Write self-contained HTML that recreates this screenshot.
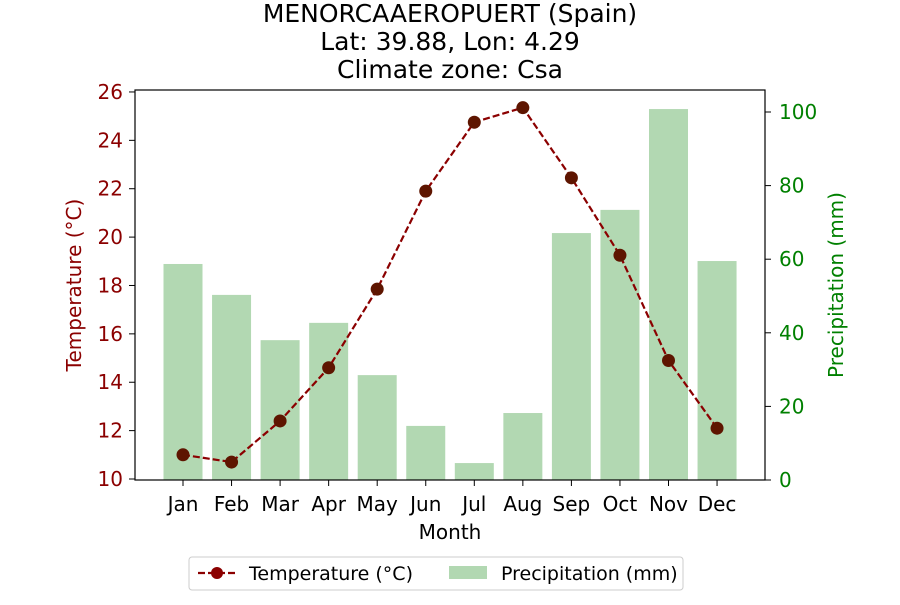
<!DOCTYPE html>
<html><head><meta charset="utf-8"><style>
body{margin:0;background:#fff}
svg{font-family:"DejaVu Sans","Liberation Sans",sans-serif}
</style></head><body>
<svg id="chart" width="900" height="600">
<g id="bars"></g>
<g id="line"></g>
<rect x="135" y="90" width="630" height="390" fill="none" stroke="#000" stroke-width="1.2"/>
<g id="axes"></g>
<g font-size="25" text-anchor="middle">
<text x="450" y="22">MENORCAAEROPUERT (Spain)</text>
<text x="450" y="50">Lat: 39.88, Lon: 4.29</text>
<text x="450" y="78">Climate zone: Csa</text>
</g>
<text x="450" y="539" font-size="20" text-anchor="middle">Month</text>
<text transform="translate(81,285) rotate(-90)" font-size="20" fill="#8b0000" text-anchor="middle">Temperature (°C)</text>
<text transform="translate(843,285) rotate(-90)" font-size="20" fill="#008000" text-anchor="middle">Precipitation (mm)</text>
<g>
<rect x="189" y="557" width="494" height="33" rx="3" fill="#fff" stroke="#ccc"/>
<g>
<line x1="198" y1="573" x2="236" y2="573" stroke="#8b0000" stroke-width="2.2" stroke-dasharray="7,3"/>
<circle cx="217" cy="573" r="6" fill="#8b0000"/>
<text x="249" y="580" font-size="19">Temperature (°C)</text></g>
<g>
<rect x="449" y="566" width="38" height="13" fill="#b2d8b2"/>
<text x="501" y="580" font-size="19">Precipitation (mm)</text></g>
</g>
</svg>
<script>
const months=["Jan","Feb","Mar","Apr","May","Jun","Jul","Aug","Sep","Oct","Nov","Dec"];
const temps=[11.0,10.7,12.4,14.6,17.85,21.9,24.75,25.35,22.45,19.25,14.9,12.1];
const precip=[58.7,50.3,38,42.7,28.5,14.7,4.6,18.2,67.1,73.4,100.8,59.5];
const tTicks=[10,12,14,16,18,20,22,24,26];
const pTicks=[0,20,40,60,80,100];
const NS="http://www.w3.org/2000/svg";
const xS=i=>183+i*48.55;
const yT=v=>479-(v-10)*24.19;
const yP=v=>480-v*3.68;
function mk(tag,attrs,parent){const e=document.createElementNS(NS,tag);for(const k in attrs)e.setAttribute(k,attrs[k]);parent.appendChild(e);return e;}
const bars=document.getElementById('bars'),line=document.getElementById('line'),axes=document.getElementById('axes');
precip.forEach((v,i)=>{const r=mk('rect',{x:xS(i)-19.5,y:yP(v),width:39,height:480-yP(v),fill:'#b2d8b2'},bars);

});
const pl=mk('polyline',{points:temps.map((v,i)=>xS(i)+','+yT(v)).join(' '),fill:'none',stroke:'#8b0000','stroke-width':2.2,'stroke-dasharray':'7,3'},line);


temps.forEach((v,i)=>{const c=mk('circle',{cx:xS(i),cy:yT(v),r:6.5,fill:'#5e1500'},line);

});
months.forEach((m,i)=>{mk('line',{x1:xS(i),x2:xS(i),y1:480,y2:486,stroke:'#000'},axes);
const t=mk('text',{x:xS(i),y:511,'font-size':20,'text-anchor':'middle'},axes);t.textContent=m;

});
tTicks.forEach(v=>{mk('line',{x1:129,x2:135,y1:yT(v),y2:yT(v),stroke:'#000'},axes);
const t=mk('text',{x:123,y:yT(v)+7,'font-size':20,'text-anchor':'end',fill:'#8b0000'},axes);t.textContent=v;

});
pTicks.forEach(v=>{mk('line',{x1:765,x2:771,y1:yP(v),y2:yP(v),stroke:'#000'},axes);
const t=mk('text',{x:779,y:yP(v)+7,'font-size':20,fill:'#008000'},axes);t.textContent=v;

});
</script>
</body></html>
